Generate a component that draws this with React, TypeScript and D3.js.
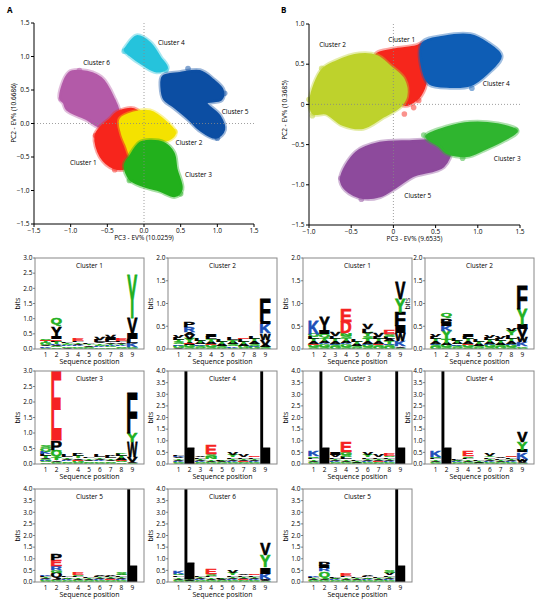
import * as d3 from 'd3'

type Pt = [number, number]

// ---------- panel A: cluster outlines (PC3, PC2) ----------
const aCluster6: Pt[] = [[-1.14, 0.38], [-1.02, 0.75], [-0.86, 0.78], [-0.59, 0.68], [-0.41, 0.36], [-0.35, 0.16], [-0.46, -0.04], [-0.62, -0.04], [-0.77, 0.06], [-1.05, 0.21], [-1.09, 0.31]]
const aCluster4: Pt[] = [[-0.26, 1.1], [-0.23, 1.15], [-0.1, 1.3], [0.08, 1.2], [0.22, 0.98], [0.31, 0.83], [0.17, 0.78], [-0.01, 0.88], [-0.19, 1.02]]
const aCluster5: Pt[] = [[0.26, 0.7], [0.49, 0.75], [0.76, 0.78], [0.94, 0.65], [1.07, 0.5], [1.05, 0.36], [0.85, 0.31], [1.03, 0.11], [1.09, -0.09], [0.98, -0.21], [0.76, -0.09], [0.62, 0.06], [0.4, 0.26], [0.28, 0.36], [0.24, 0.55]]
const aCluster1: Pt[] = [[-0.37, 0.16], [-0.14, 0.21], [-0.05, 0.11], [-0.19, -0.24], [-0.21, -0.49], [-0.26, -0.66], [-0.41, -0.66], [-0.59, -0.49], [-0.66, -0.19], [-0.59, -0.06], [-0.46, 0.06]]
const aCluster2: Pt[] = [[-0.32, 0.06], [-0.14, 0.16], [0.08, 0.18], [0.31, 0.01], [0.42, -0.14], [0.33, -0.24], [0.13, -0.26], [-0.05, -0.34], [-0.17, -0.49], [-0.23, -0.34], [-0.3, -0.14]]
const aCluster3: Pt[] = [[-0.05, -0.29], [0.08, -0.26], [0.26, -0.29], [0.4, -0.44], [0.44, -0.68], [0.51, -0.98], [0.42, -1.08], [0.22, -1.0], [-0.01, -0.93], [-0.19, -0.83], [-0.26, -0.63], [-0.19, -0.49]]
const aStray6: Pt[] = [[-1.13, 0.37], [-0.88, 0.79], [-0.62, 0.0]]
const aStray4: Pt[] = [[-0.27, 1.08], [0.3, 0.8]]
const aStray5: Pt[] = [[0.6, 0.82], [1.1, 0.45], [1.0, -0.22]]
const aStray1: Pt[] = [[-0.66, -0.18], [-0.4, -0.69]]
const aStray2: Pt[] = [[0.42, -0.12]]
const aStray3: Pt[] = [[0.5, -1.05], [-0.2, -0.85]]

// ---------- panel B ----------
const bCluster1: Pt[] = [[-0.2, 0.62], [0.0, 0.68], [0.27, 0.72], [0.37, 0.76], [0.4, 0.5], [0.36, 0.2], [0.27, 0.06], [0.12, 0.0], [0.0, 0.3], [-0.16, 0.5]]
const bCluster2: Pt[] = [[-0.98, 0.06], [-0.84, 0.43], [-0.68, 0.53], [-0.4, 0.62], [-0.2, 0.6], [-0.04, 0.47], [0.12, 0.31], [0.15, 0.1], [0.08, -0.02], [-0.12, -0.15], [-0.36, -0.29], [-0.6, -0.25], [-0.8, -0.11], [-0.95, -0.11]]
const bCluster4: Pt[] = [[0.35, 0.76], [0.59, 0.84], [0.91, 0.86], [1.11, 0.76], [1.27, 0.6], [1.11, 0.39], [0.91, 0.24], [0.67, 0.22], [0.43, 0.26], [0.35, 0.43]]
const bCluster5: Pt[] = [[-0.62, -0.93], [-0.44, -0.6], [-0.16, -0.48], [0.19, -0.46], [0.51, -0.46], [0.67, -0.56], [0.59, -0.77], [0.23, -0.89], [0.04, -1.02], [-0.16, -1.14], [-0.36, -1.16], [-0.56, -1.06]]
const bCluster3: Pt[] = [[0.39, -0.4], [0.63, -0.29], [0.91, -0.23], [1.23, -0.25], [1.46, -0.33], [1.31, -0.44], [1.07, -0.56], [0.87, -0.64], [0.63, -0.6], [0.55, -0.52]]
const bStray1: Pt[] = [[0.13, -0.12], [0.24, -0.04], [0.3, 0.05]]
const bStray2: Pt[] = [[-1.0, 0.06], [-0.96, -0.14], [-0.85, 0.45]]
const bStray4: Pt[] = [[1.22, 0.6], [0.93, 0.2], [1.0, 0.8]]
const bStray5: Pt[] = [[-0.62, -0.92], [-0.38, -1.18]]
const bStray3: Pt[] = [[1.45, -0.32], [0.36, -0.38], [0.82, -0.67]]

const aTicks = [-1.5, -1, -0.5, 0, 0.5, 1, 1.5]
const bTicksX = [-1, -0.5, 0, 0.5, 1, 1.5]
const bTicksY = [-1.5, -1, -0.5, 0, 0.5, 1]

// ---------- sequence logos: per position, letters bottom -> top with bits ----------
// token: Letter [colour override k/g/b/r] bits
const logoA1 = ['S.04 K.05 A.04 G.06 T.06 E.04 S.05', 'S.05 G.04 A.05 K.04 T.06 L.03 E.05 I.08 Yk.35 Q.28', 'A.04 G.05 K.03 S.04 T.05 L.04', 'S.04 G.05 K.04 A.05 T.05 L.04 E.08', 'G.04 S.04 A.04 T.04 L.04', 'G.05 K.04 S.05 T.05 A.05 L.06 V.1', 'S.05 G.05 K.03 T.05 A.05 L.06 I.08 V.1', 'G.04 S.05 K.04 T.05 A.05 L.05 E.07', 'S.04 G.04 K.12 L.12 I.2 V.5 Y1.42']
const logoA2 = ['A.03 G.04 K.03 S.05 T.05 L.05 V.05', 'S.04 G.04 A.04 E.03 Y.08 V.08 A.06 R.12 P.1', 'G.03 S.04 K.03 A.04 T.04 L.04', 'S.04 G.04 E.03 A.05 T.05 L.05 I.04', 'G.03 S.04 A.04 T.04 L.04', 'G.03 K.03 S.04 A.04 T.05 L.05', 'S.03 G.04 A.04 T.05 L.05 E.03', 'G.04 K.03 S.05 A.05 T.05 L.06', 'S.04 A.04 V.12 W.15 K.2 I.05 F.47']
const logoA3 = ['S.05 G.06 K.04 A.05 T.07 L.06 K.08 Q.1 S.06', 'S.04 G.04 A.05 T.06 Q.24 S.03 P.3 E2.3', 'G.04 S.05 K.03 A.05 T.05 L.06', 'S.04 G.06 E.04 A.05 T.06 L.06 V.05', 'G.04 S.05 A.05 T.05 L.05', 'S.04 G.05 K.03 A.05 T.05 L.06', 'G.04 S.05 A.05 T.05 L.06 V.04', 'S.05 G.06 E.03 A.06 T.06 L.07 Y.05', 'S.04 A.04 V.16 W.48 Y.27 F1.29']
const logoA4 = ['S.04 G.05 K.04 A.05 T.06 V.06 K.06 L.04', 'L4.25', 'G.04 S.05 K.03 A.05 T.05 L.06 V.05', 'S.04 G.05 A.05 T.06 N.1 S.12 E.36', 'G.03 S.04 A.04 T.04 L.05', 'S.04 G.05 K.03 A.05 T.06 L.07 Y.08 V.1', 'G.04 S.05 E.03 A.05 T.05 L.06 V.1', 'S.04 G.05 K.03 A.05 T.06 L.06 E.06', 'L4.25']
const logoA5 = ['S.04 G.05 K.03 A.05 T.05 L.05 K.06', 'S.04 G.05 A.06 Qk.25 G.1 R.18 E.28 P.26', 'G.04 S.04 K.03 A.04 T.05 L.05', 'S.04 G.05 A.05 T.06 L.06 S.06 E.08', 'G.04 S.04 A.05 T.05 L.05', 'S.04 G.05 K.03 A.05 T.05 L.05 V.06', 'G.04 S.04 E.03 A.05 T.05 L.05 V.05', 'S.04 G.05 K.03 A.05 T.06 L.05 V.04 S.09', 'L4.25']
const logoA6 = ['S.04 G.05 A.05 T.06 L.07 Q.06 K.13', 'S.03 G.03 A.03 T.03 L4.25', 'G.04 S.04 K.03 A.05 T.05 L.05', 'S.04 G.05 A.05 T.06 L.06 S.1 E.19', 'G.03 S.04 A.04 T.04 L.04', 'S.04 G.05 K.03 A.05 T.06 L.07 Y.1 V.1', 'G.04 S.05 E.03 A.05 T.06 L.06 V.06', 'S.04 G.05 K.03 A.05 T.06 L.05 E.07', 'S.04 A.04 W.06 K.22 I.29 Y.5 V.5']
const logoB1 = ['S.04 G.05 E.03 A.05 T.06 L.05 Q.06 K.28', 'S.05 G.05 K.03 A.05 T.06 Q.08 I.08 Yk.3', 'G.04 S.05 K.03 A.05 T.05 L.06 V.08', 'S.04 G.06 K.03 A.05 T.06 S.05 N.06 D.24 E.27', 'G.03 S.04 A.04 T.04 L.05', 'S.04 G.05 K.03 A.05 T.06 S.05 Y.07 L.08 V.12', 'G.04 S.05 E.03 A.05 T.05 L.05 V.07', 'G.04 S.05 K.03 T.05 A.05 L.05 S.05 E.08', 'S.03 A.03 K.12 W.17 I.16 F.3 Y.29 V.37']
const logoB2 = ['G.04 S.05 K.03 A.05 T.05 L.05 V.04', 'S.04 G.05 A.05 T.08 Y.18 K.1 I.08 P.09 Q.12', 'G.03 S.04 K.03 A.04 T.04 L.04', 'S.04 G.05 E.03 A.05 T.05 L.05 I.06', 'G.03 S.04 A.04 T.05 L.05', 'S.04 G.04 K.03 A.04 T.05 L.05 V.04', 'G.04 S.04 A.05 T.05 L.05 V.05', 'S.04 G.05 K.03 A.05 T.06 L.07 Y.1 V.04', 'S.03 G.03 K.09 W.11 V.19 I.1 Y.33 F.52']
const logoB3 = ['S.04 G.05 A.05 T.06 L.06 Q.08 K.22', 'L4.25', 'G.04 S.05 K.03 A.05 T.06 L.07 V.08 I.09', 'S.04 G.05 A.05 T.06 L.1 S.1 G.12 E.41', 'G.03 S.03 A.04 T.04 L.04', 'S.04 G.05 K.03 A.05 T.06 L.06 Y.08 V.1', 'G.04 S.05 E.03 A.05 T.06 L.06 V.08', 'S.04 G.05 K.03 A.05 T.06 L.06 S.06 E.08', 'L4.25']
const logoB4 = ['S.04 G.05 A.05 T.06 L.06 Q.05 K.26', 'L4.25', 'G.04 S.04 K.03 A.04 T.04 L.05', 'S.04 G.05 A.05 T.06 L.06 S.07 E.23', 'G.03 S.03 A.03 T.04 L.04', 'S.04 G.05 K.03 A.05 T.06 L.06 Y.07 V.1', 'G.04 S.04 A.05 T.05 L.06 V.06', 'S.04 G.05 K.03 A.05 T.06 L.05 S.04 E.06', 'S.03 A.04 W.08 V.07 K.3 I.1 Y.34 V.45']
const logoB5 = ['S.03 G.04 A.04 T.05 L.05 K.06', 'S.03 G.04 A.04 T.05 Q.3 R.14 I.08 P.16', 'G.04 S.04 K.03 A.04 T.04 L.05', 'S.04 G.05 A.05 T.06 L.06 E.12', 'G.04 S.04 A.05 T.05 L.06', 'S.04 G.04 K.03 A.04 T.05 L.05 V.05', 'G.04 S.04 A.05 T.05 L.06', 'S.04 G.05 K.03 A.05 T.06 L.07 V.08 S.1', 'L4.25']

const positions = d3.range(1, 10)

const GREEN = '#22b022'
const BLUE = '#1d4fb8'
const RED = '#f52222'
const codeColor: Record<string, string> = { k: '#000', g: GREEN, b: BLUE, r: RED }
function chemColor(ch: string) {
  if ('GSTYCQN'.includes(ch)) return GREEN
  if ('KRH'.includes(ch)) return BLUE
  if ('DE'.includes(ch)) return RED
  return '#000'
}

const LOGO_FONT = "'Liberation Sans', Arial, sans-serif"
const TXT_FONT = "'Open Sans', 'Noto Sans', sans-serif"

// ink box of a glyph at 100px, measured once
const inkCache: Record<string, { l: number; r: number; a: number; d: number }> = {}
function ink(ch: string) {
  if (!inkCache[ch]) {
    const ctx = document.createElement('canvas').getContext('2d')
    let box = { l: -8, r: 64, a: 72, d: 0 }
    if (ctx) {
      ctx.font = `bold 100px ${LOGO_FONT}`
      const m = ctx.measureText(ch)
      if (m.actualBoundingBoxAscent > 0) {
        box = { l: m.actualBoundingBoxLeft, r: m.actualBoundingBoxRight, a: m.actualBoundingBoxAscent, d: m.actualBoundingBoxDescent }
      }
    }
    inkCache[ch] = box
  }
  return inkCache[ch]
}

function parseStack(s: string) {
  return s.split(' ').map((tok) => {
    const m = /^([A-Z])([kgbr]?)([\d.]+)$/.exec(tok) as RegExpExecArray
    return { ch: m[1], color: m[2] ? codeColor[m[2]] : chemColor(m[1]), bits: +m[3] }
  })
}

const line = d3.line<Pt>().curve(d3.curveCatmullRomClosed.alpha(0.5))

interface ClusterDef {
  pts: Pt[]
  stray: Pt[]
  color: string
}
interface LabelDef {
  text: string
  x: number
  y: number
}

const Scatter: React.FC<{
  xDom: [number, number]
  yDom: [number, number]
  xRange: [number, number]
  yRange: [number, number]
  xTicks: number[]
  yTicks: number[]
  fmt: (d: number) => string
  clusters: ClusterDef[]
  labels: LabelDef[]
  xLabel: string
  yLabel: string
  yLabelX: number
  yLabelY: number
}> = (p) => {
  const sx = d3.scaleLinear().domain(p.xDom).range(p.xRange)
  const sy = d3.scaleLinear().domain(p.yDom).range(p.yRange)
  const x0 = p.xRange[0]
  const yb = p.yRange[0]
  return (
    <g>
      {p.clusters.map((c, i) => {
        const path = line(c.pts.map((q) => [sx(q[0]), sy(q[1])] as Pt)) || ''
        return (
          <g key={i}>
            <path d={path} fill="none" stroke={c.color} strokeOpacity={0.4} strokeWidth={6} strokeLinejoin="round" />
            {c.stray.map((q, j) => (
              <circle key={j} cx={sx(q[0])} cy={sy(q[1])} r={2.8} fill={c.color} fillOpacity={0.5} />
            ))}
            <path d={path} fill={c.color} stroke={c.color} strokeWidth={2.5} strokeLinejoin="round" />
          </g>
        )
      })}
      <line x1={sx(0)} x2={sx(0)} y1={p.yRange[1]} y2={yb} stroke="#888" strokeWidth={0.8} strokeDasharray="1,2" />
      <line x1={x0} x2={p.xRange[1]} y1={sy(0)} y2={sy(0)} stroke="#888" strokeWidth={0.8} strokeDasharray="1,2" />
      <line x1={x0} x2={x0} y1={p.yRange[1]} y2={yb} stroke="#000" strokeWidth={1} />
      <line x1={x0} x2={p.xRange[1]} y1={yb} y2={yb} stroke="#000" strokeWidth={1} />
      {p.yTicks.map((t) => (
        <g key={'y' + t}>
          <line x1={x0 - 3} x2={x0} y1={sy(t)} y2={sy(t)} stroke="#000" />
          <text x={x0 - 4.5} y={sy(t)} dy="0.35em" textAnchor="end" fontSize={6.5}>{p.fmt(t)}</text>
        </g>
      ))}
      {p.xTicks.map((t) => (
        <g key={'x' + t}>
          <line x1={sx(t)} x2={sx(t)} y1={yb} y2={yb + 3} stroke="#000" />
          <text x={sx(t)} y={yb + 9} textAnchor="middle" fontSize={6.5}>{p.fmt(t)}</text>
        </g>
      ))}
      <text x={(x0 + p.xRange[1]) / 2} y={yb + 15.5} textAnchor="middle" fontSize={6.5}>{p.xLabel}</text>
      <text transform={`translate(${p.yLabelX},${p.yLabelY}) rotate(-90)`} textAnchor="middle" fontSize={6.5}>{p.yLabel}</text>
      {p.labels.map((l) => (
        <text key={l.text} x={sx(l.x)} y={sy(l.y)} dy="0.35em" fontSize={6.5}>{l.text}</text>
      ))}
    </g>
  )
}

const Logo: React.FC<{ id: string; title: string; data: string[]; ymax: number; left: number; top: number; w: number; h: number }> = ({ id, title, data, ymax, left, top, w, h }) => {
  const y = d3.scaleLinear().domain([0, ymax]).range([top + h, top])
  const x = d3.scaleBand<number>().domain(positions).range([left + 5.6, left + w - 6.6]).paddingInner(0.06)
  const ticks = d3.range(0, ymax + 0.01, 0.5)
  const f = d3.format('.1f')
  return (
    <g>
      <clipPath id={id}>
        <rect x={left} y={top} width={w} height={h} />
      </clipPath>
      <g clipPath={`url(#${id})`}>
        {data.map((s, i) => {
          let base = 0
          const xl = x(positions[i]) as number
          const bw = x.bandwidth()
          return parseStack(s).map((t, j) => {
            const yb = y(base)
            const yt = y(base + t.bits)
            base += t.bits
            const hp = yb - yt
            if (hp < 0.25) return null
            const b = ink(t.ch)
            const scx = bw / (b.l + b.r)
            const scy = hp / (b.a + b.d)
            return (
              <text
                key={i + '-' + j}
                transform={`translate(${xl},${yb}) scale(${scx},${scy}) translate(${b.l},${-b.d})`}
                fontFamily={LOGO_FONT}
                fontWeight="bold"
                fontSize={100}
                fill={t.color}
                stroke={t.color}
                strokeWidth={0.7}
                vectorEffect="non-scaling-stroke"
              >
                {t.ch}
              </text>
            )
          })
        })}
      </g>
      <rect x={left} y={top} width={w} height={h} fill="none" stroke="#888" strokeWidth={1} />
      {ticks.map((t) => (
        <g key={t}>
          <line x1={left - 2} x2={left} y1={y(t)} y2={y(t)} stroke="#555" strokeWidth={0.7} />
          <text x={left - 2.5} y={y(t)} dy="0.35em" textAnchor="end" fontSize={6.5}>{f(t)}</text>
        </g>
      ))}
      {positions.map((p) => (
        <text key={p} x={(x(p) as number) + x.bandwidth() / 2} y={top + h + 8} textAnchor="middle" fontSize={6.5}>{p}</text>
      ))}
      <text x={left + w / 2} y={top + h + 14.5} textAnchor="middle" fontSize={7}>Sequence position</text>
      <text transform={`translate(${left - 15},${top + h / 2}) rotate(-90)`} textAnchor="middle" fontSize={7}>bits</text>
      <text x={left + w / 2} y={top + 10} textAnchor="middle" fontSize={6.5}>{title}</text>
    </g>
  )
}

const fmtA = d3.format('.1f')
const fmtB = (d: number) => (d === 0 ? '0' : d3.format('.1f')(d))

const colX = [35, 168, 303, 425]
const rowY = [258, 371, 489]
const rowH = [91, 93, 93]
const PW = 109

const logos = [
  { title: 'Cluster 1', data: logoA1, ymax: 3, c: 0, r: 0 },
  { title: 'Cluster 2', data: logoA2, ymax: 2, c: 1, r: 0 },
  { title: 'Cluster 1', data: logoB1, ymax: 2, c: 2, r: 0 },
  { title: 'Cluster 2', data: logoB2, ymax: 2, c: 3, r: 0 },
  { title: 'Cluster 3', data: logoA3, ymax: 3, c: 0, r: 1 },
  { title: 'Cluster 4', data: logoA4, ymax: 4, c: 1, r: 1 },
  { title: 'Cluster 3', data: logoB3, ymax: 4, c: 2, r: 1 },
  { title: 'Cluster 4', data: logoB4, ymax: 4, c: 3, r: 1 },
  { title: 'Cluster 5', data: logoA5, ymax: 4, c: 0, r: 2 },
  { title: 'Cluster 6', data: logoA6, ymax: 4, c: 1, r: 2 },
  { title: 'Cluster 5', data: logoB5, ymax: 4, c: 2, r: 2 },
]

export default function App() {
  const clustersA: ClusterDef[] = [
    { pts: aCluster6, stray: aStray6, color: '#b35aa8' },
    { pts: aCluster4, stray: aStray4, color: '#25c3dc' },
    { pts: aCluster5, stray: aStray5, color: '#0c4ea3' },
    { pts: aCluster1, stray: aStray1, color: '#f7251c' },
    { pts: aCluster2, stray: aStray2, color: '#f4e200' },
    { pts: aCluster3, stray: aStray3, color: '#22b01c' },
  ]
  const clustersB: ClusterDef[] = [
    { pts: bCluster1, stray: bStray1, color: '#f6261c' },
    { pts: bCluster2, stray: bStray2, color: '#bed22c' },
    { pts: bCluster4, stray: bStray4, color: '#0e5db5' },
    { pts: bCluster5, stray: bStray5, color: '#8d4a9c' },
    { pts: bCluster3, stray: bStray3, color: '#2fb52f' },
  ]
  const labelsA: LabelDef[] = [
    { text: 'Cluster 4', x: 0.19, y: 1.2 },
    { text: 'Cluster 6', x: -0.83, y: 0.9 },
    { text: 'Cluster 5', x: 1.06, y: 0.17 },
    { text: 'Cluster 2', x: 0.43, y: -0.29 },
    { text: 'Cluster 1', x: -1.01, y: -0.59 },
    { text: 'Cluster 3', x: 0.56, y: -0.77 },
  ]
  const labelsB: LabelDef[] = [
    { text: 'Cluster 2', x: -0.88, y: 0.74 },
    { text: 'Cluster 1', x: -0.06, y: 0.8 },
    { text: 'Cluster 4', x: 1.06, y: 0.26 },
    { text: 'Cluster 3', x: 1.19, y: -0.68 },
    { text: 'Cluster 5', x: 0.13, y: -1.14 },
  ]
  return (
    <svg width={550} height={603} style={{ position: 'absolute', left: 0, top: 0, background: '#fff' }} fontFamily={TXT_FONT}>
      <text x={7} y={13} fontSize={8} fontWeight="bold">A</text>
      <text x={281} y={13} fontSize={8} fontWeight="bold">B</text>
      <Scatter
        xDom={[-1.5, 1.5]} yDom={[-1.5, 1.5]} xRange={[34, 254]} yRange={[224, 23]}
        xTicks={aTicks} yTicks={aTicks} fmt={fmtA} clusters={clustersA} labels={labelsA}
        xLabel="PC3 - EV% (10.0259)" yLabel="PC2 - EV% (10.6686)" yLabelX={16} yLabelY={113}
      />
      <Scatter
        xDom={[-1, 1.5]} yDom={[-1.5, 1]} xRange={[309, 520]} yRange={[225, 24]}
        xTicks={bTicksX} yTicks={bTicksY} fmt={fmtB} clusters={clustersB} labels={labelsB}
        xLabel="PC3 - EV% (9.6535)" yLabel="PC2 - EV% (10.3685)" yLabelX={287} yLabelY={110}
      />
      {logos.map((l, i) => (
        <Logo key={i} id={'clip' + i} title={l.title} data={l.data} ymax={l.ymax} left={colX[l.c]} top={rowY[l.r]} w={PW} h={rowH[l.r]} />
      ))}
    </svg>
  )
}
